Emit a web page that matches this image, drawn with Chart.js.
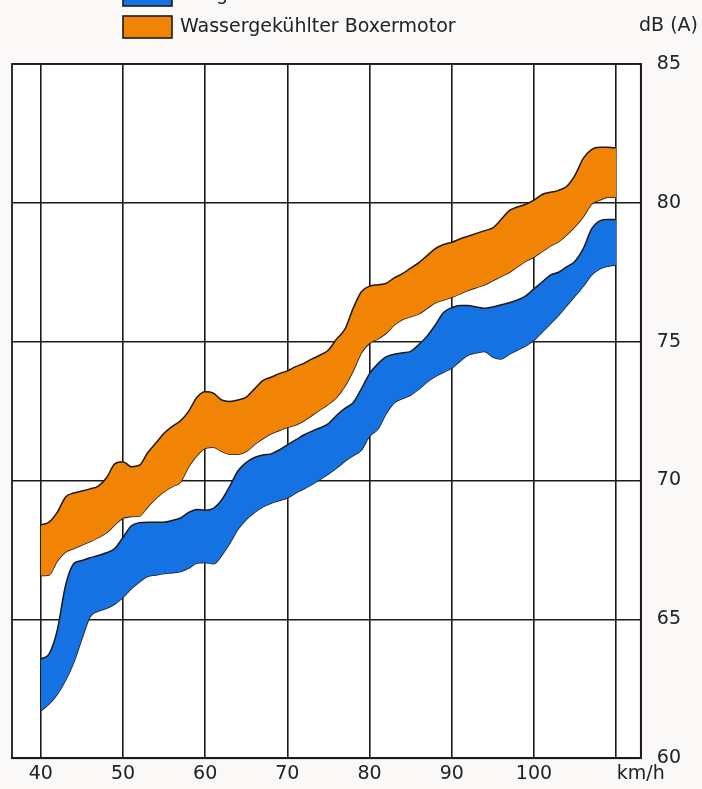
<!DOCTYPE html>
<html>
<head>
<meta charset="utf-8">
<script src="https://cdn.jsdelivr.net/npm/chart.js@4/dist/chart.umd.min.js"></script>
<style>
  html, body { margin: 0; padding: 0; background: #fbf8f8; }
  #wrap { width: 702px; height: 789px; }
</style>
</head>
<body>
<div id="wrap"><canvas id="laerm"></canvas></div>
<script>
// ================= DATEN =================

const geschwindigkeit = [
  40, 41, 42, 43, 44, 45, 46, 47, 48, 49,
  50, 51, 52, 53, 54, 55, 56, 57, 58, 59,
  60, 61, 62, 63, 64, 65, 66, 67, 68, 69,
  70, 71, 72, 73, 74, 75, 76, 77, 78, 79,
  80, 81, 82, 83, 84, 85, 86, 87, 88, 89,
  90, 91, 92, 93, 94, 95, 96, 97, 98, 99,
  100, 101, 102, 103, 104, 105, 106, 107, 108, 109, 110
];

// Wassergekühlter Boxermotor (orange Band)
const wasserOben = [
  68.4, 68.5, 68.85, 69.4, 69.55, 69.62, 69.7, 69.8, 70.1, 70.6,
  70.68, 70.5, 70.55, 71.0, 71.35, 71.7, 71.95, 72.15, 72.5, 73.0,
  73.2, 73.15, 72.9, 72.85, 72.9, 73.0, 73.3, 73.6, 73.72, 73.85,
  73.95, 74.1, 74.22, 74.38, 74.52, 74.7, 75.1, 75.45, 76.2, 76.8,
  77.0, 77.05, 77.1, 77.3, 77.45, 77.65, 77.85, 78.1, 78.35, 78.5,
  78.58, 78.7, 78.8, 78.9, 79.0, 79.1, 79.4, 79.72, 79.85, 79.95,
  80.1, 80.3, 80.38, 80.45, 80.6, 81.0, 81.6, 81.92, 82.0, 82.0, 81.98
];
const wasserUnten = [
  66.58, 66.6, 67.1, 67.42, 67.55, 67.68, 67.8, 67.95, 68.12, 68.4,
  68.65, 68.7, 68.72, 69.05, 69.35, 69.6, 69.78, 69.95, 70.5, 70.9,
  71.16, 71.2, 71.05, 70.95, 70.95, 71.05, 71.3, 71.5, 71.68, 71.8,
  71.92, 72.0, 72.15, 72.35, 72.55, 72.75, 73.0, 73.4, 73.95, 74.6,
  74.95, 75.1, 75.3, 75.6, 75.8, 75.9, 76.0, 76.2, 76.4, 76.5,
  76.6, 76.72, 76.85, 76.95, 77.05, 77.2, 77.35, 77.5, 77.7, 77.9,
  78.05, 78.25, 78.45, 78.6, 78.85, 79.15, 79.5, 79.95, 80.1, 80.2, 80.2
];

// Luftgekühlter Boxermotor (blaues Band)
const luftOben = [
  63.57, 63.75, 64.6, 66.2, 67.0, 67.12, 67.22, 67.3, 67.4, 67.55,
  67.95, 68.36, 68.48, 68.5, 68.5, 68.5, 68.56, 68.65, 68.85, 68.96,
  68.93, 69.0, 69.3, 69.8, 70.35, 70.65, 70.83, 70.92, 70.96, 71.1,
  71.28, 71.46, 71.64, 71.78, 71.9, 72.05, 72.35, 72.6, 72.8, 73.3,
  73.85, 74.2, 74.45, 74.55, 74.6, 74.65, 74.9, 75.2, 75.6, 76.05,
  76.22, 76.3, 76.3, 76.25, 76.2, 76.25, 76.33, 76.4, 76.5, 76.65,
  76.9, 77.15, 77.4, 77.5, 77.7, 77.9, 78.35, 79.05, 79.35, 79.4, 79.4
];
const luftUnten = [
  61.71, 61.95, 62.3, 62.8, 63.45, 64.3, 65.1, 65.3, 65.4, 65.55,
  65.8, 66.1, 66.35, 66.55, 66.6, 66.65, 66.68, 66.72, 66.85, 67.03,
  67.05, 67.0, 67.3, 67.75, 68.25, 68.6, 68.85, 69.05, 69.18, 69.28,
  69.38, 69.55, 69.7, 69.86, 70.05, 70.24, 70.45, 70.7, 70.9, 71.1,
  71.6, 71.85, 72.4, 72.8, 72.95, 73.08, 73.3, 73.55, 73.75, 73.9,
  74.05, 74.3, 74.52, 74.6, 74.65, 74.45, 74.38, 74.55, 74.7, 74.85,
  75.05, 75.35, 75.65, 75.95, 76.3, 76.65, 77.0, 77.4, 77.62, 77.72, 77.77
];

const xTicks = [40, 50, 60, 70, 80, 90, 100, 110, 113];
const yTicks = [60, 65, 70, 75, 80, 85];

const legendeTexte = ["Luftgekühlter Boxermotor", "Wassergekühlter Boxermotor"];
const einheitY = "dB (A)";
const einheitX = "km/h";

// ================= STIL =================

const ORANGE = "#f28405";
const BLAU = "#1572e3";
const LINIE = "#1c1a1a";
const SCHRIFT = "'DejaVu Sans', sans-serif";

function punkte(werte) {
  return geschwindigkeit.map((s, i) => ({ x: s, y: werte[i] }));
}

function band(werte, fuellung, farbe) {
  return {
    data: punkte(werte),
    borderColor: LINIE,
    borderWidth: 1.5,
    pointRadius: 0,
    tension: 0.4,
    cubicInterpolationMode: "monotone",
    fill: fuellung,
    backgroundColor: farbe
  };
}

// ================= PLUGINS =================

const rahmenPlugin = {
  id: "rahmen",
  beforeDraw(chart) {
    const { ctx, chartArea: a } = chart;
    ctx.save();
    ctx.fillStyle = "#ffffff";
    ctx.fillRect(a.left, a.top, a.right - a.left, a.bottom - a.top);
    ctx.restore();
  },
  afterDraw(chart) {
    const { ctx, chartArea: a } = chart;
    ctx.save();
    ctx.strokeStyle = LINIE;
    ctx.lineWidth = 1.8;
    ctx.strokeRect(a.left, a.top, a.right - a.left, a.bottom - a.top);

    // Legende (erste Zeile oben angeschnitten)
    const farben = [BLAU, ORANGE];
    const mitten = [-5, 27];
    ctx.font = "19px " + SCHRIFT;
    ctx.textBaseline = "middle";
    legendeTexte.forEach((t, i) => {
      ctx.fillStyle = farben[i];
      ctx.fillRect(123, mitten[i] - 11, 49, 22);
      ctx.lineWidth = 1.6;
      ctx.strokeStyle = LINIE;
      ctx.strokeRect(123, mitten[i] - 11, 49, 22);
      ctx.fillStyle = "#222";
      ctx.textAlign = "left";
      ctx.fillText(t, 180, mitten[i]);
    });

    // Einheit der y-Achse
    ctx.textAlign = "right";
    ctx.fillText(einheitY, 698, 26);
    ctx.restore();
  }
};

// ================= CHART =================

Chart.defaults.font.family = SCHRIFT;
Chart.defaults.color = "#222";

new Chart(document.getElementById("laerm"), {
  type: "line",
  data: {
    datasets: [
      band(wasserOben, "+1", ORANGE),
      band(wasserUnten, false, ORANGE),
      band(luftOben, "+1", BLAU),
      band(luftUnten, false, BLAU)
    ]
  },
  options: {
    responsive: true,
    maintainAspectRatio: false,
    animation: false,
    layout: { padding: { left: 12, top: 64, right: 5, bottom: 0 } },
    plugins: { legend: { display: false }, tooltip: { enabled: false } },
    scales: {
      x: {
        type: "linear",
        min: 36.5,
        max: 113,
        afterBuildTicks: axis => { axis.ticks = xTicks.map(v => ({ value: v })); },
        grid: { color: LINIE, lineWidth: 1.6, drawTicks: false },
        border: { color: LINIE, width: 1.8 },
        ticks: {
          padding: 4,
          font: { size: 19 },
          maxRotation: 0,
          autoSkip: false,
          callback: v => (v === 113 ? einheitX : v === 110 ? "" : v)
        }
      },
      y: {
        position: "right",
        min: 60,
        max: 85,
        afterBuildTicks: axis => { axis.ticks = yTicks.map(v => ({ value: v })); },
        grid: { color: LINIE, lineWidth: 1.6, drawTicks: false },
        border: { color: LINIE, width: 1.8 },
        ticks: { padding: 16, font: { size: 19 } }
      }
    }
  },
  plugins: [rahmenPlugin]
});
</script>
</body>
</html>
